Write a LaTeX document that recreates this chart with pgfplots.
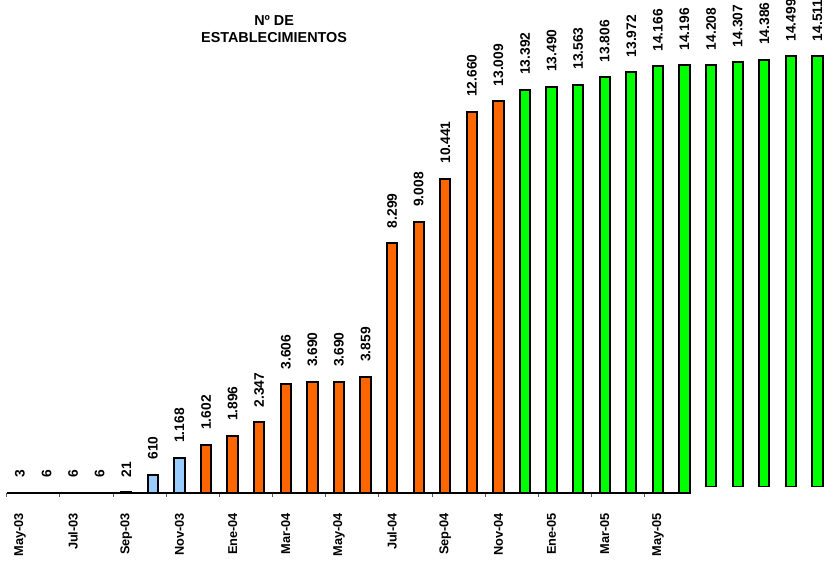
\documentclass[border=0pt]{standalone}
\usepackage{pgfplots}
\pgfplotsset{compat=1.18}
\usepackage{fontspec}
\setmainfont{Liberation Sans}
\definecolor{lblue}{RGB}{153,204,255}
\definecolor{orng}{RGB}{255,102,0}
\definecolor{grn}{RGB}{0,255,0}
\begin{document}
\begin{tikzpicture}
\useasboundingbox (-6.7pt,-69pt) rectangle (818.3pt,493pt);
\pgfplotsset{
  mybars/.style={ybar, bar width=10.3pt, bar shift=0pt, draw=black, line width=2pt},
  common/.style={scale only axis, anchor=south west,
    /pgf/number format/assume math mode=true,
    /pgf/number format/1000 sep={.},
    nodes near coords,
    every node near coord/.append style={rotate=90, anchor=west, inner sep=0pt, outer xsep=15pt,
      font=\fontsize{13.8}{14}\selectfont\bfseries, text=black},
  }
}
\begin{axis}[common, at={(0pt,0pt)}, width=683.1pt, height=437pt,
  xmin=-0.5, xmax=25.2, ymin=0, ymax=14511, clip=false,
  axis x line*=bottom, axis y line=none,
  x axis line style={line width=1.5pt, -},
  xtick={0,2,...,24},
  xticklabels={May-03,Jul-03,Sep-03,Nov-03,Ene-04,Mar-04,May-04,Jul-04,Sep-04,Nov-04,Ene-05,Mar-05,May-05},
  major tick length=0pt,
  minor xtick={-0.5,1.5,...,23.5},
  minor tick length=4pt,
  tick align=outside,
  tick style={gray!70!black, line width=0.8pt},
  xticklabel style={rotate=90, anchor=east, inner sep=0pt, outer xsep=20pt,
    font=\fontsize{12.8}{13}\selectfont\bfseries},
]
\addplot[mybars, fill=lblue] coordinates {(0,3) (1,6) (2,6) (3,6) (4,21) (5,610) (6,1168)};
\addplot[mybars, fill=orng] coordinates {(7,1602) (8,1896) (9,2347) (10,3606) (11,3690) (12,3690) (13,3859) (14,8299) (15,9008) (16,10441) (17,12660) (18,13009)};
\addplot[mybars, fill=grn] coordinates {(19,13392) (20,13490) (21,13563) (22,13806) (23,13972) (24,14166) (25,14196)};
\node[align=center, font=\fontsize{14.4}{16.5}\selectfont\bfseries] at (axis cs:9.56,15408) {Nº DE\\ESTABLECIMIENTOS};
\end{axis}
\begin{axis}[common, at={(0pt,6pt)}, width=824pt, height=486.9pt,
  xmin=-0.5, xmax=30.5, ymin=199.2, ymax=16368, hide axis]
\addplot[mybars, fill=grn] coordinates {(26,14208) (27,14307) (28,14386) (29,14499) (30,14511)};
\end{axis}
\end{tikzpicture}
\end{document}
